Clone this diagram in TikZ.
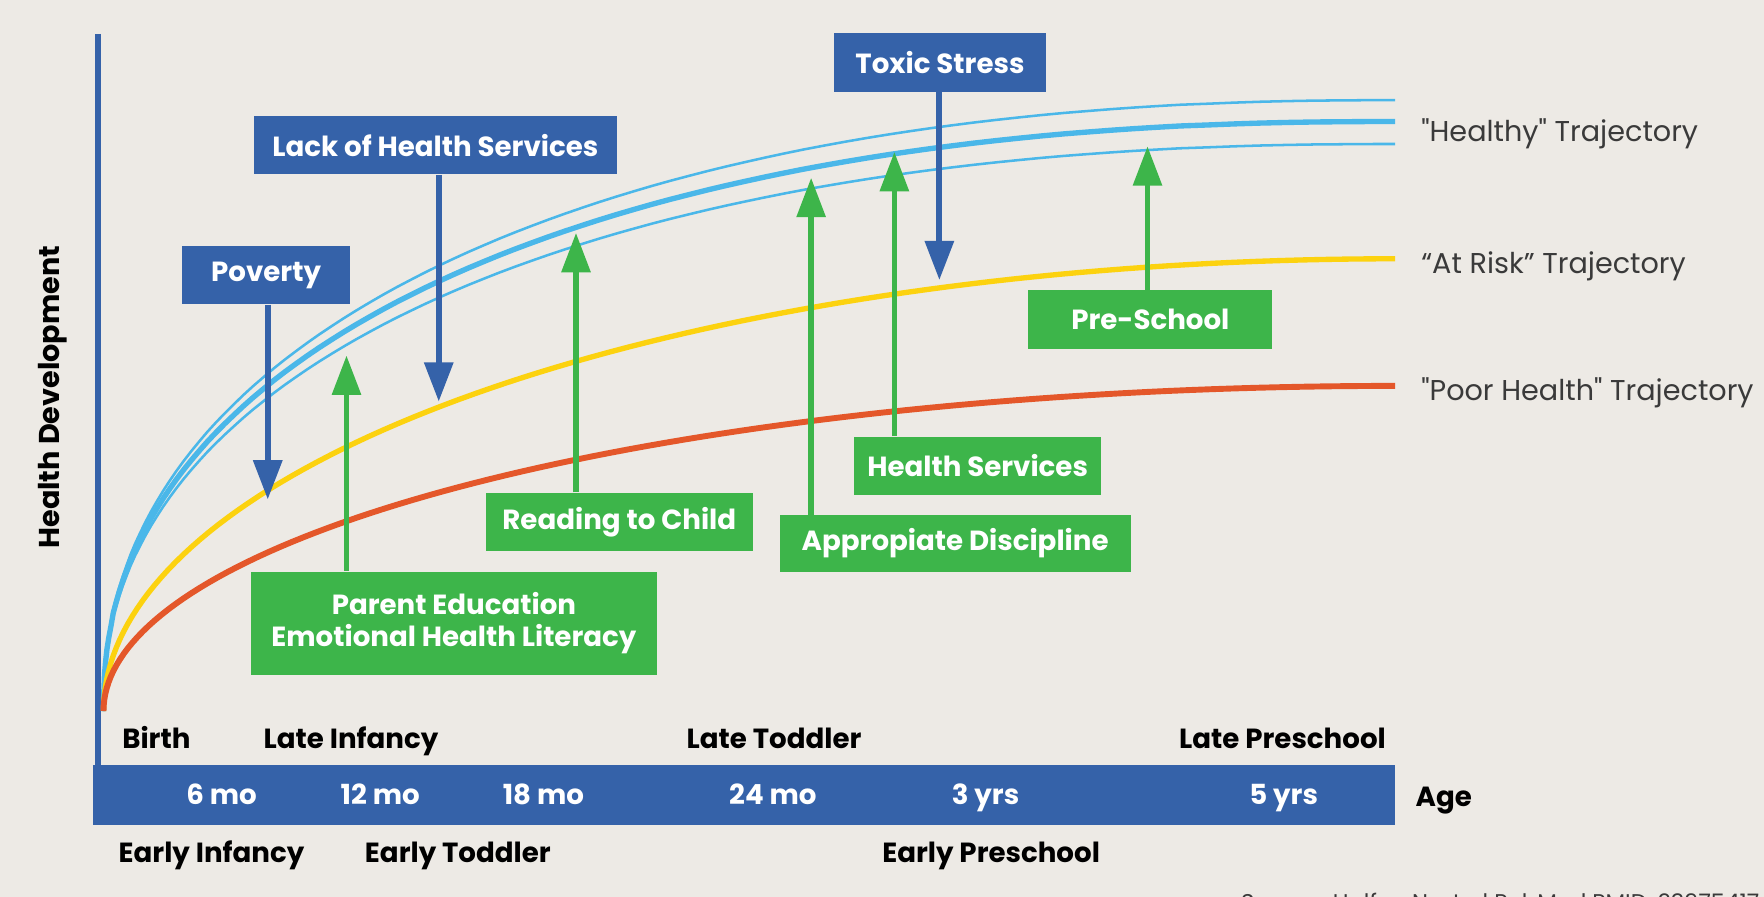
\documentclass[tikz,border=0pt]{standalone}
\usepackage{fontspec}
\setmainfont{Poppins}
\usetikzlibrary{arrows.meta,
                positioning}
\definecolor{paper}{RGB}{237,234,229}
\definecolor{axisblue}{RGB}{53,98,169}
\definecolor{boxgreen}{RGB}{61,181,74}
\definecolor{skyblue}{RGB}{74,183,233}
\definecolor{riskyellow}{RGB}{252,210,15}
\definecolor{poororange}{RGB}{228,87,42}
\definecolor{labelgray}{RGB}{58,58,58}
\tikzset{riskbox/.style =
   {rectangle,
    fill=axisblue,
    text=white,
    align=center,
    inner sep=0pt,
    font=\bfseries\fontsize{14}{16.5}\selectfont,
    minimum height=10.4mm}}
\tikzset{helpbox/.style =
   {rectangle,
    fill=boxgreen,
    text=white,
    align=center,
    inner sep=0pt,
    font=\bfseries\fontsize{14}{16.5}\selectfont,
    minimum height=10.4mm}}
\tikzset{pushdown/.style = {draw=axisblue, line width=1.1mm,
    -{Triangle[length=7mm, width=5mm]}}}
\tikzset{liftup/.style = {draw=boxgreen, line width=1mm,
    -{Triangle[length=7mm, width=5mm]}}}
\tikzset{stage/.style = {anchor=base, inner sep=0pt,
    font=\bfseries\fontsize{14}{16}\selectfont}}
\tikzset{agetick/.style = {anchor=base, inner sep=0pt, text=white,
    font=\bfseries\fontsize{14}{16}\selectfont}}
\tikzset{trajectory/.style = {anchor=base west, inner sep=0pt, text=labelgray,
    font=\fontsize{14.5}{16}\selectfont}}
\tikzset{thinhealthy/.style = {draw=skyblue, line width=0.45mm}}
\tikzset{healthy/.style = {draw=skyblue, line width=0.95mm}}

\begin{document}
\begin{tikzpicture}[x=0.2mm, y=-0.2mm]

    \fill [paper] (0,0) rectangle (1568,797);
    \useasboundingbox (0,0) rectangle (1568,797);

    % axes
    \draw [axisblue, line width=1.2mm] (87,30) -- (87,700);
    \fill [axisblue] (83,680) rectangle (1240,733);

    \node [rotate=90,
           font=\bfseries\fontsize{14.5}{16}\selectfont] (ylabel)
          at (47,353) {Health Development};

    % trajectories
    \draw [thinhealthy] (92,632) -- plot [variable=\t, domain=0.5:89.5, samples=90]
        ({1240-1148*pow(cos(\t),0.89)}, {632-543*pow(sin(\t),0.89)}) -- (1240,89);
    \draw [healthy] (92,632) -- plot [variable=\t, domain=0.5:89.5, samples=90]
        ({1240-1148*pow(cos(\t),0.89)}, {632-524*pow(sin(\t),0.89)}) -- (1240,108);
    \draw [thinhealthy] (92,632) -- plot [variable=\t, domain=0.5:89.5, samples=90]
        ({1240-1148*pow(cos(\t),0.89)}, {632-504*pow(sin(\t),0.89)}) -- (1240,128);
    \draw [riskyellow, line width=0.95mm] plot [variable=\t, domain=0:90, samples=90]
        ({1240-1148*cos(\t)}, {632-402*sin(\t)});
    \draw [poororange, line width=1.05mm] plot [variable=\t, domain=0:90, samples=90]
        ({1240-1148*cos(\t)}, {632-289*sin(\t)});

    \node [trajectory] (healthylabel) at (1263,126)
          {\textquotedbl Healthy\textquotedbl\ Trajectory};
    \node [trajectory] (risklabel) at (1263,243) {“At Risk” Trajectory};
    \node [trajectory] (poorlabel) at (1263,356)
          {\textquotedbl Poor Health\textquotedbl\ Trajectory};

    % risk factors
    \node [riskbox, minimum width=29.8mm] (poverty) at (236.5,244.5) {Poverty};
    \node [riskbox, minimum width=64.4mm] (lack) at (387,129) {Lack of Health Services};
    \node [riskbox, minimum width=37.8mm] (toxic) at (835.5,55.5) {Toxic Stress};

    \coordinate (povertytip) at (238,444);
    \coordinate (lacktip) at (390,357);
    \coordinate (toxictip) at (835,249);

    \draw [pushdown] (poverty.south -| povertytip) -- (povertytip);
    \draw [pushdown] (lack.south -| lacktip) -- (lacktip);
    \draw [pushdown] (toxic.south -| toxictip) -- (toxictip);

    % protective factors
    \node [helpbox, minimum width=72.2mm, minimum height=18.4mm] (parent)
          at (403.5,554) {Parent Education\\Emotional Health Literacy};
    \node [helpbox, minimum width=47.4mm] (reading) at (550.5,464) {Reading to Child};
    \node [helpbox, minimum width=62.4mm, minimum height=10mm] (discipline)
          at (849,483) {Appropiate Discipline};
    \node [helpbox, minimum width=44mm] (services) at (869,414) {Health Services};
    \node [helpbox, minimum width=43.4mm] (preschool) at (1022.5,284) {Pre-School};

    \coordinate (parenttip) at (308,316);
    \coordinate (readingtip) at (512,207);
    \coordinate (disciplinetip) at (721,158);
    \coordinate (servicestip) at (795,135);
    \coordinate (preschooltip) at (1020,130);

    \draw [liftup] (parent.north -| parenttip) -- (parenttip);
    \draw [liftup] (reading.north -| readingtip) -- (readingtip);
    \draw [liftup] (discipline.north -| disciplinetip) -- (disciplinetip);
    \draw [liftup] (services.north -| servicestip) -- (servicestip);
    \draw [liftup] (preschool.north -| preschooltip) -- (preschooltip);

    % age bar
    \node [agetick] (m6) at (197,715) {6 mo};
    \node [agetick] (m12) at (338,715) {12 mo};
    \node [agetick] (m18) at (483,715) {18 mo};
    \node [agetick] (m24) at (687,715) {24 mo};
    \node [agetick] (y3) at (876,715) {3 yrs};
    \node [agetick] (y5) at (1141,715) {5 yrs};
    \node [stage, anchor=base west] (age) at (1258,717) {Age};

    \node [stage] (birth) at (139,665) {Birth};
    \node [stage] (lateinfancy) at (312,665) {Late Infancy};
    \node [stage] (latetoddler) at (688,665) {Late Toddler};
    \node [stage] (latepreschool) at (1140,665) {Late Preschool};
    \node [stage] (earlyinfancy) at (188,767) {Early Infancy};
    \node [stage] (earlytoddler) at (407,767) {Early Toddler};
    \node [stage] (earlypreschool) at (881,767) {Early Preschool};

    \node [anchor=base west, text=labelgray,
           font=\fontsize{11.5}{13}\selectfont] (source)
          at (1097,809) {Source: Halfon N, et al PubMed PMID: 23975417};

\end{tikzpicture}
\end{document}
